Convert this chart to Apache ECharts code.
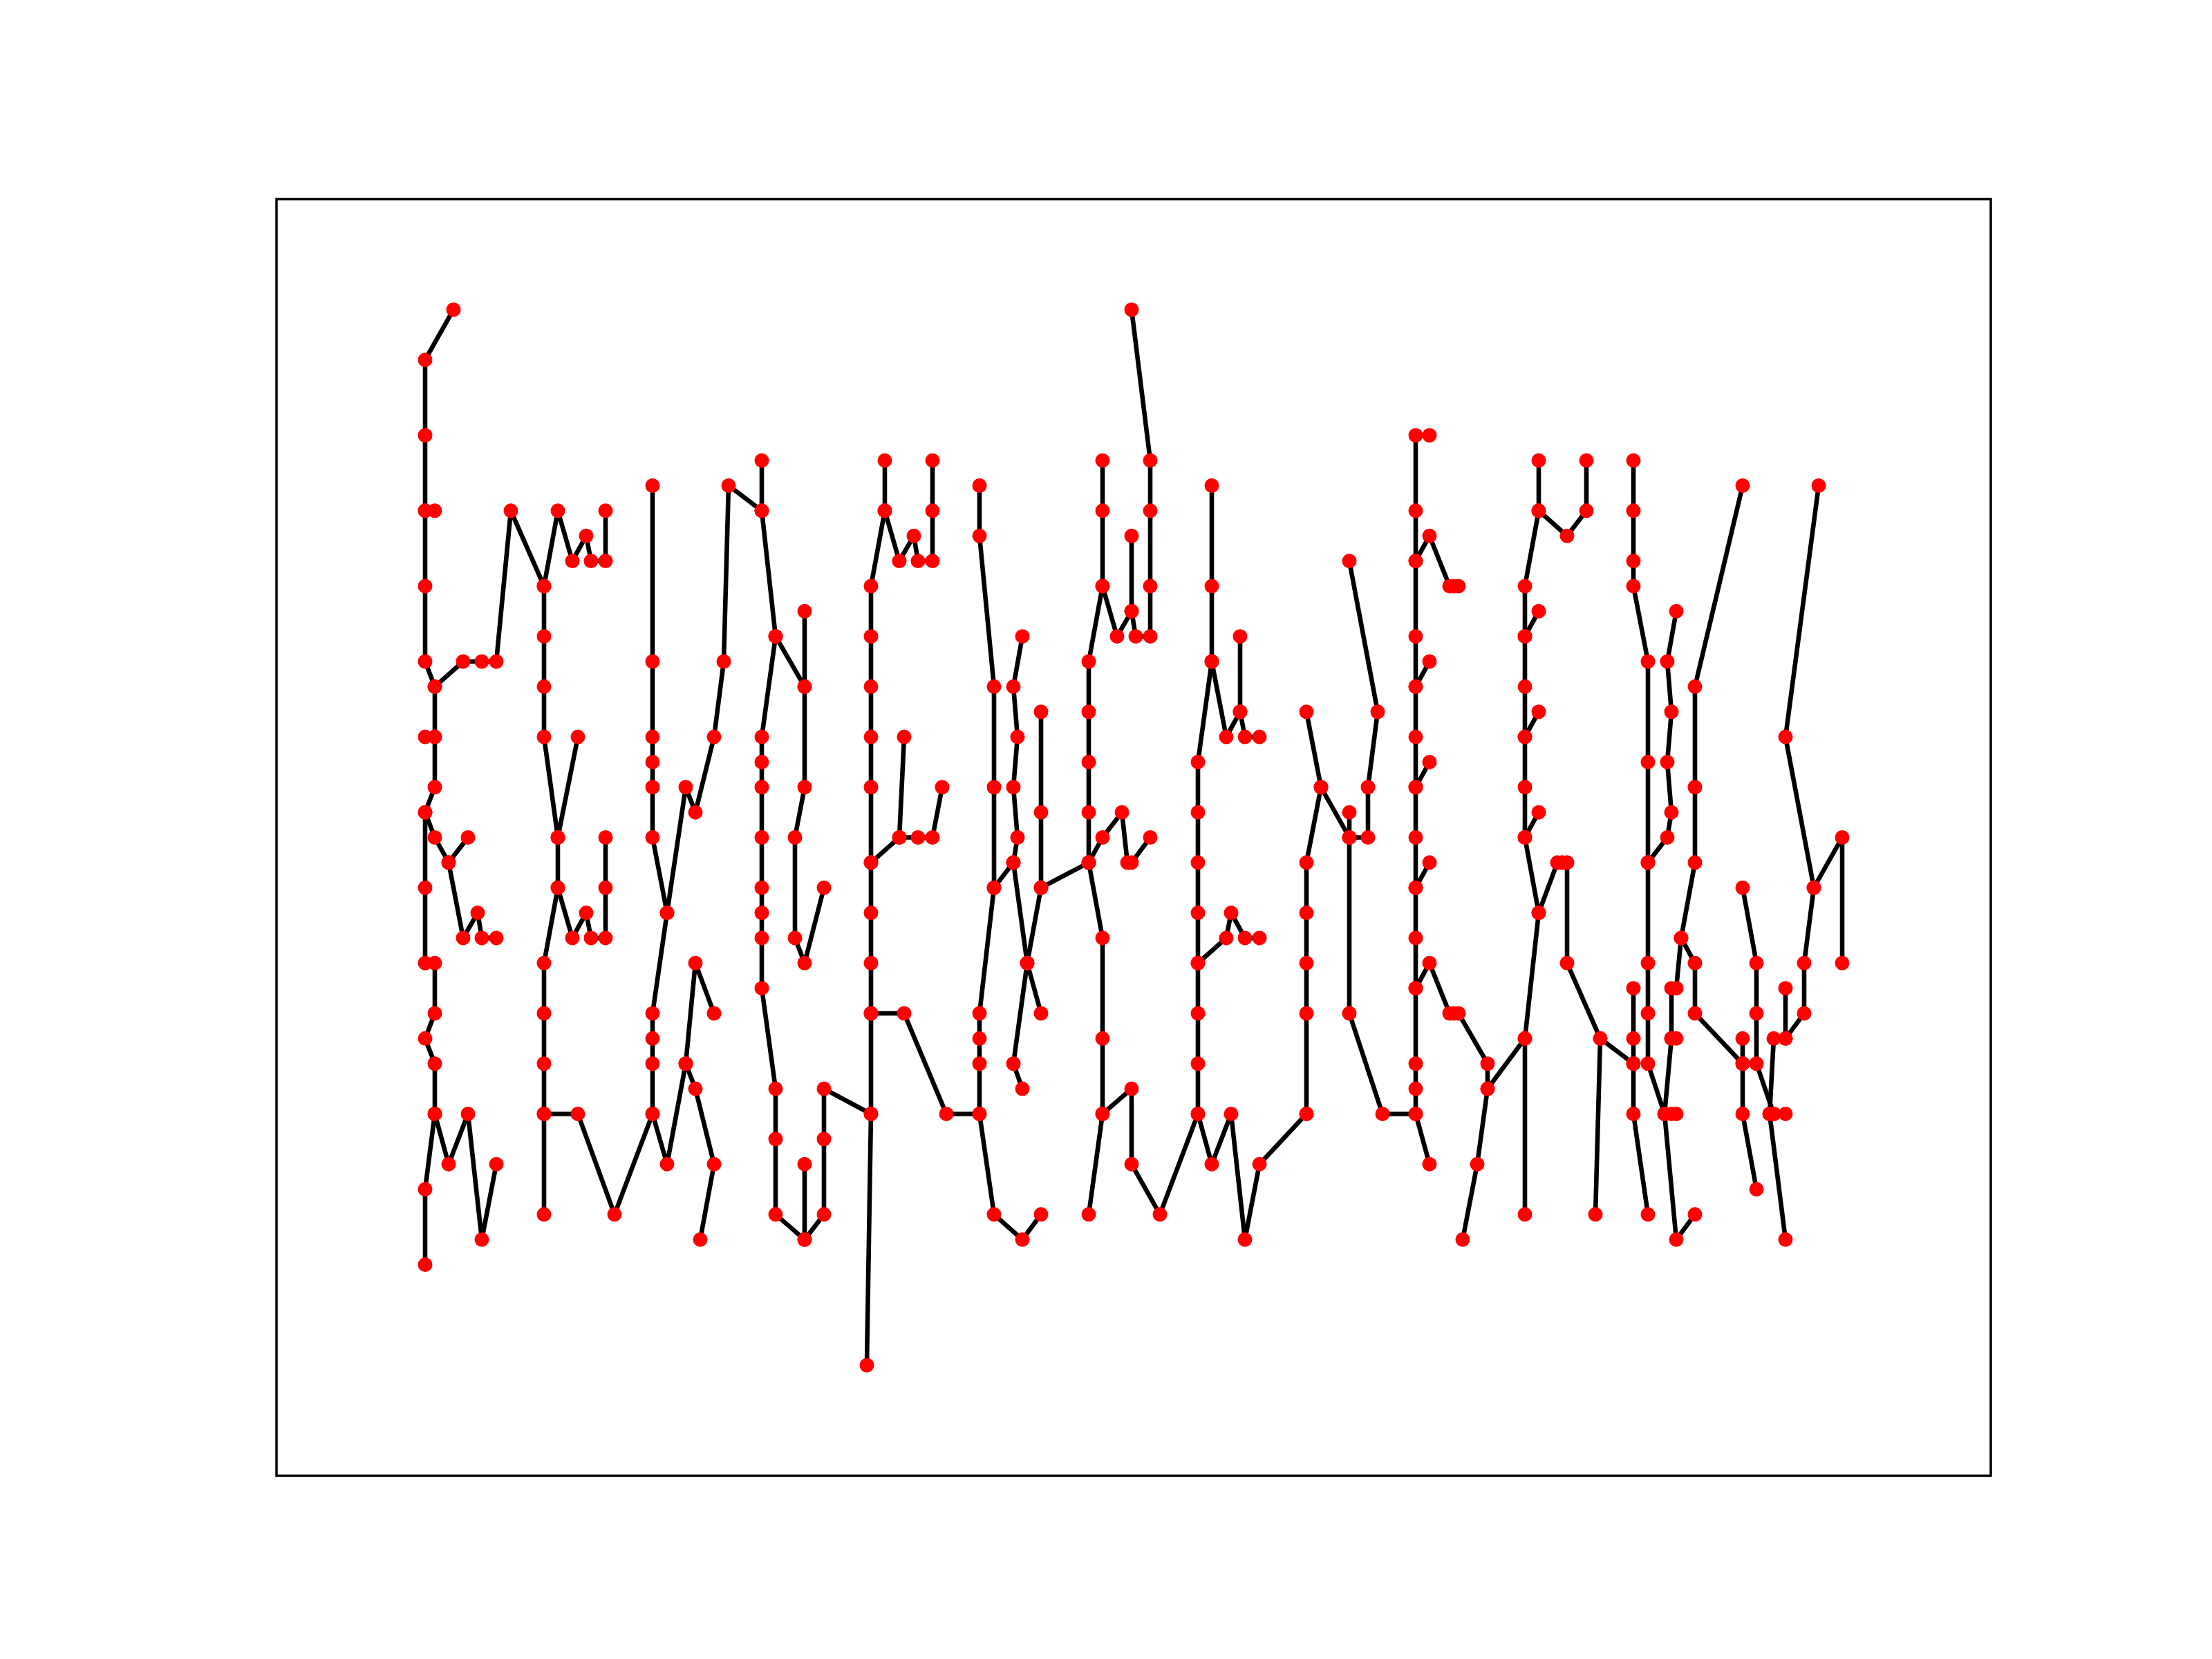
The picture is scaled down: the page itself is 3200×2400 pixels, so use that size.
<!DOCTYPE html>
<html>
<head>
<meta charset="utf-8">
<script src="https://cdn.jsdelivr.net/npm/echarts@6/dist/echarts.min.js"></script>
<style>html,body{margin:0;padding:0;background:#fff}#chart{width:3200px;height:2400px}</style>
</head>
<body>
<div id="chart"></div>
<script>
// Each glyph is a list of strokes; each stroke is a list of [x, y] points.
const glyph01 = [
  [[656,42],[615,40],[615,37],[615,34],[615,31],[615,28],[629,27],[670,28],[697,28],[718,28],[739,34],[787,31],[807,34],[828,32],[848,33],[855,32],[876,32],[876,34]],
  [[629,34],[615,34]],
  [[629,27],[629,25],[629,23],[615,22],[629,21],[649,20],[677,21]],
  [[615,25],[629,25]],
  [[649,20],[670,17],[691,18],[697,17],[718,17]],
  [[615,22],[615,19],[615,16],[629,16],[629,14],[615,13],[629,12],[629,10],[649,8],[677,10],[697,5],[718,8]],
  [[629,10],[615,7],[615,4]]
];
const glyph02 = [
  [[787,31],[787,29],[787,27],[787,25],[807,21],[836,25]],
  [[807,21],[807,19],[828,17],[848,18],[855,17],[876,17],[876,19],[876,21]],
  [[807,19],[787,16],[787,14],[787,12],[787,10],[787,6]],
  [[787,10],[836,10],[889,6],[944,10]]
];
const glyph03 = [
  [[944,35],[944,28],[944,25],[944,24],[944,23],[944,21],[965,18],[992,23],[1006,22],[1033,25],[1047,28],[1054,35],[1102,34]],
  [[965,18],[944,14],[944,13],[944,12],[944,10],[965,8],[992,12],[1006,16],[1033,14]],
  [[992,12],[1006,11],[1033,8],[1013,5]]
];
const glyph04 = [
  [[1102,36],[1102,34],[1122,29],[1164,27]],
  [[1164,30],[1164,27],[1164,23],[1150,21],[1150,17],[1164,16],[1192,19]],
  [[1122,29],[1102,25],[1102,24],[1102,23],[1102,21],[1102,19],[1102,18],[1102,17],[1102,15],[1122,11],[1122,9],[1122,6],[1164,5],[1192,6],[1192,9],[1192,11],[1260,10]],
  [[1164,8],[1164,5]]
];
const glyph05 = [
  [[1280,36],[1280,34],[1301,32],[1322,33],[1328,32],[1349,32],[1349,34],[1349,36]],
  [[1280,34],[1260,31],[1260,29],[1260,27],[1260,25],[1260,23],[1260,20],[1260,18],[1260,16],[1260,14],[1260,10],[1254,0]],
  [[1260,20],[1301,21],[1308,25]],
  [[1301,21],[1328,21],[1349,21],[1363,23]],
  [[1260,14],[1308,14],[1369,10],[1417,10]]
];
const glyph06 = [
  [[1417,35],[1417,33],[1438,27],[1438,23],[1438,19],[1417,14],[1417,13],[1417,12],[1417,10],[1438,6],[1479,5],[1506,6]],
  [[1438,19],[1466,20],[1486,16],[1506,14]],
  [[1479,29],[1466,27],[1472,25],[1466,23],[1472,21],[1466,20]],
  [[1506,26],[1506,22],[1506,19],[1486,16],[1466,12],[1479,11]],
  [[1506,19],[1575,20]]
];
const glyph07 = [
  [[1595,36],[1595,34],[1595,31],[1575,28],[1575,26],[1575,24],[1575,22],[1575,20],[1595,17],[1595,13],[1595,10],[1575,6]],
  [[1595,31],[1616,29],[1637,30],[1643,29],[1664,29],[1664,31],[1664,34],[1664,36],[1637,42]],
  [[1637,30],[1637,33]],
  [[1575,20],[1595,21],[1623,22],[1631,20],[1637,20],[1664,21]],
  [[1595,10],[1637,11],[1637,8],[1678,6],[1733,10]]
];
const glyph08 = [
  [[1753,35],[1753,31],[1753,28],[1733,24],[1733,22],[1733,20],[1733,18],[1733,16],[1733,14],[1733,12],[1733,10],[1753,8],[1781,10],[1801,5],[1822,8],[1890,10]],
  [[1753,28],[1774,25],[1794,26],[1801,25],[1822,25]],
  [[1794,26],[1794,29]],
  [[1733,16],[1774,17],[1781,18],[1801,17],[1822,17]]
];
const glyph09 = [
  [[1890,10],[1890,14],[1890,16],[1890,18],[1890,20],[1911,23],[1890,26]],
  [[1911,23],[1952,21],[1979,21],[1979,23],[1993,26],[1952,32]],
  [[1952,22],[1952,21],[1952,14],[2000,10],[2048,10],[2068,8]]
];
const glyph10 = [
  [[2068,37],[2048,37],[2048,34],[2048,32],[2048,29],[2048,27],[2048,25],[2048,23],[2048,21],[2048,19],[2048,17],[2048,15],[2048,12],[2048,11],[2048,10]],
  [[2048,32],[2068,33],[2097,31],[2103,31],[2110,31]],
  [[2048,27],[2068,28]],
  [[2048,23],[2068,24]],
  [[2048,19],[2068,20]],
  [[2048,15],[2068,16],[2097,14],[2103,14],[2110,14],[2152,12],[2152,11],[2206,13]],
  [[2152,11],[2137,8],[2116,5]]
];
const glyph11 = [
  [[2226,36],[2226,34],[2267,33],[2295,34],[2295,36]],
  [[2226,34],[2206,31],[2206,29],[2206,27],[2206,25],[2206,23],[2206,21],[2226,18],[2206,13],[2206,6]],
  [[2206,29],[2226,30]],
  [[2206,25],[2226,26]],
  [[2206,21],[2226,22]],
  [[2226,18],[2253,20],[2260,20],[2267,20],[2267,16],[2315,13],[2308,6]],
  [[2315,13],[2363,12]]
];
const glyph12 = [
  [[2363,36],[2363,34],[2363,32],[2363,31],[2384,28],[2384,24],[2384,20],[2384,16],[2384,14],[2384,12],[2408,10],[2418,10],[2425,10]],
  [[2384,20],[2412,21],[2418,22],[2412,24],[2418,26],[2412,28],[2425,30]],
  [[2521,35],[2452,27],[2452,23],[2452,20],[2432,17],[2452,16],[2452,14],[2521,12]],
  [[2432,17],[2425,15],[2418,15],[2418,13],[2425,13]],
  [[2418,13],[2408,10],[2425,5],[2452,6]],
  [[2363,15],[2363,13],[2363,12],[2363,10],[2384,6]]
];
const glyph13 = [
  [[2631,35],[2583,25],[2624,19],[2665,21],[2665,16]],
  [[2624,19],[2610,16],[2610,14],[2583,13],[2566,13],[2560,10],[2566,10],[2583,10]],
  [[2583,15],[2583,13]],
  [[2560,10],[2583,5]],
  [[2521,19],[2541,16],[2541,14],[2541,12],[2566,10]],
  [[2521,13],[2521,12],[2521,10],[2541,7]]
];

const glyphs = [glyph01, glyph02, glyph03, glyph04, glyph05, glyph06, glyph07,
                glyph08, glyph09, glyph10, glyph11, glyph12, glyph13];

const series = [];
const allPoints = [];
glyphs.forEach(g => g.forEach(stroke => {
  series.push({
    type: 'line', data: stroke, symbol: 'none', z: 2,
    lineStyle: { color: '#000', width: 6.6, cap: 'square', join: 'round' },
    silent: true, animation: false
  });
  stroke.forEach(p => allPoints.push(p));
}));
series.push({
  type: 'scatter', data: allPoints, symbol: 'circle', symbolSize: 21, z: 5,
  itemStyle: { color: '#ff0000', opacity: 1 }, silent: true, animation: false
});

const chart = echarts.init(document.getElementById('chart'), null, { renderer: 'canvas' });
chart.setOption({
  backgroundColor: '#ffffff',
  animation: false,
  grid: { left: 400, right: 320, top: 288, bottom: 265, show: true,
          borderColor: '#000', borderWidth: 3.5, backgroundColor: 'transparent' },
  xAxis: { type: 'value', min: 400, max: 2880,
           axisLine: { show: false }, axisTick: { show: false },
           axisLabel: { show: false }, splitLine: { show: false } },
  yAxis: { type: 'value', min: -4.4, max: 46.4,
           axisLine: { show: false }, axisTick: { show: false },
           axisLabel: { show: false }, splitLine: { show: false } },
  series: series
});
</script>
</body>
</html>
